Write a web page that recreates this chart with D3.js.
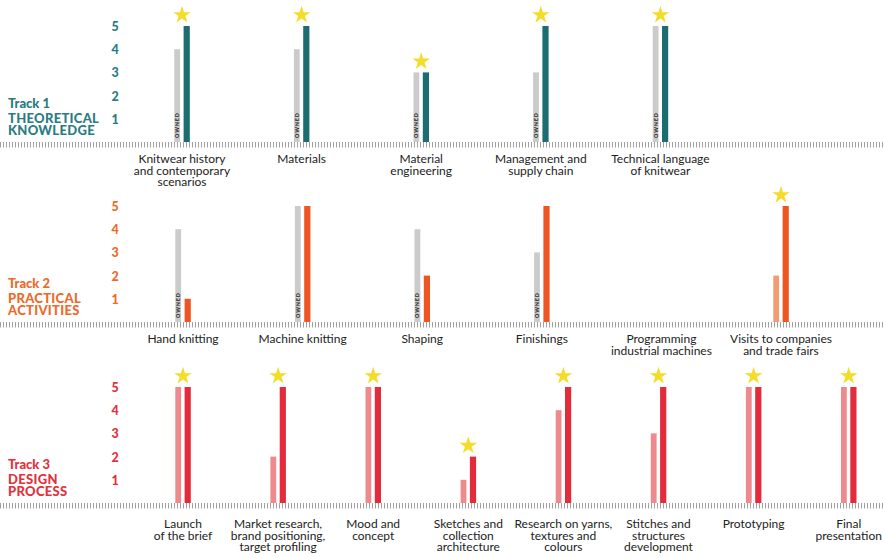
<!DOCTYPE html>
<html>
<head>
<meta charset="utf-8">
<script src="https://cdn.jsdelivr.net/npm/d3@7"></script>
<style>
  html, body { margin: 0; padding: 0; background: #ffffff; }
  svg { display: block; }
</style>
</head>
<body>
<div id="chart"></div>
<script>
// ---- Track 1: theoretical knowledge ----
const track1Categories = [
  ["Knitwear history", "and contemporary", "scenarios"],
  ["Materials"],
  ["Material", "engineering"],
  ["Management and", "supply chain"],
  ["Technical language", "of knitwear"]
];
const track1Owned  = [4, 4, 3, 3, 5];
const track1Prior  = [null, null, null, null, null];
const track1Target = [5, 5, 3, 5, 5];
const track1Star   = [true, true, true, true, true];

// ---- Track 2: practical activities ----
const track2Categories = [
  ["Hand knitting"],
  ["Machine knitting"],
  ["Shaping"],
  ["Finishings"],
  ["Programming", "industrial machines"],
  ["Visits to companies", "and trade fairs"]
];
const track2Owned  = [4, 5, 4, 3, null, null];
const track2Prior  = [null, null, null, null, null, 2];
const track2Target = [1, 5, 2, 5, null, 5];
const track2Star   = [false, false, false, false, false, true];

// ---- Track 3: design process ----
const track3Categories = [
  ["Launch", "of the brief"],
  ["Market research,", "brand positioning,", "target profiling"],
  ["Mood and", "concept"],
  ["Sketches and", "collection", "architecture"],
  ["Research on yarns,", "textures and", "colours"],
  ["Stitches and", "structures", "development"],
  ["Prototyping"],
  ["Final", "presentation"]
];
const track3Owned  = [null, null, null, null, null, null, null, null];
const track3Prior  = [5, 2, 5, 1, 4, 3, 5, 5];
const track3Target = [5, 5, 5, 2, 5, 5, 5, 5];
const track3Star   = [true, true, true, true, true, true, true, true];

const levelTicks = [1, 2, 3, 4, 5];
const trackTitles = [
  ["Track 1", "THEORETICAL", "KNOWLEDGE"],
  ["Track 2", "PRACTICAL", "ACTIVITIES"],
  ["Track 3", "DESIGN", "PROCESS"]
];

const W = 885, H = 558;
const svg = d3.select("#chart").append("svg")
  .attr("width", W).attr("height", H)
  .style("font-family", "Lato, 'Open Sans', sans-serif");

svg.append("rect").attr("width", W).attr("height", H).attr("fill", "#ffffff");

// soft edge used on the stars
const defs = svg.append("defs");
defs.append("filter").attr("id", "soft")
  .attr("x", "-30%").attr("y", "-30%").attr("width", "160%").attr("height", "160%")
  .append("feGaussianBlur").attr("stdDeviation", 0.5);

const tracks = [
  {
    title: trackTitles[0], cats: track1Categories, owned: track1Owned, prior: track1Prior,
    target: track1Target, star: track1Star,
    base: 142, xFirst: 182, xStep: 119.6, labelGap: 21,
    text: "#2a7c82", bar: "#1c6d72", light: "#cfcfcf"
  },
  {
    title: trackTitles[1], cats: track2Categories, owned: track2Owned, prior: track2Prior,
    target: track2Target, star: track2Star,
    base: 322, xFirst: 183, xStep: 119.6, labelGap: 21,
    text: "#ec6a2a", bar: "#ee5522", light: "#f39c74"
  },
  {
    title: trackTitles[2], cats: track3Categories, owned: track3Owned, prior: track3Prior,
    target: track3Target, star: track3Star,
    base: 503, xFirst: 183, xStep: 95.1, labelGap: 25,
    text: "#e3303d", bar: "#e32b3b", light: "#ee8a8e"
  }
];

const ownedColor = "#cbcbcb";
const starColor = "#f4dc2c";
const unitHeight = 116 / 5;

tracks.forEach(t => {
  const g = svg.append("g");
  const n = t.cats.length;
  const keys = d3.range(n);

  const x = d3.scalePoint()
    .domain(keys)
    .range([t.xFirst, t.xFirst + (n - 1) * t.xStep]);

  const y = d3.scaleLinear()
    .domain([0, 5])
    .range([t.base, t.base - 5 * unitHeight]);

  // level numbers sit in the middle of each unit band
  const yLevel = d3.scaleLinear()
    .domain([0.5, 5.5])
    .range([t.base - 0.5 * unitHeight, t.base - 5.5 * unitHeight]);

  const axis = g.append("g")
    .attr("transform", "translate(115,0)")
    .call(d3.axisLeft(yLevel).tickValues(levelTicks).tickSize(0).tickPadding(0).tickFormat(d3.format("d")));
  axis.select(".domain").remove();
  axis.selectAll("text")
    .attr("x", 0)
    .attr("text-anchor", "middle")
    .attr("dy", "0.36em")
    .attr("fill", t.text)
    .style("font-family", "Lato, sans-serif")
    .style("font-weight", "900")
    .style("font-size", "12.5px");

  // ruler baseline
  g.append("line")
    .attr("x1", 0).attr("x2", W)
    .attr("y1", t.base + 2.8).attr("y2", t.base + 2.8)
    .attr("stroke", "#a0a0a0")
    .attr("stroke-width", 5.5)
    .attr("stroke-dasharray", "1 2");

  // track title
  const title = g.append("text")
    .attr("fill", t.text)
    .style("font-weight", "900")
    .style("font-size", "13px");
  title.append("tspan").attr("x", 8).attr("y", t.base - 34).text(t.title[0]);
  title.append("tspan").attr("x", 8).attr("y", t.base - 19.5).style("letter-spacing", "0.3px").text(t.title[1]);
  title.append("tspan").attr("x", 8).attr("y", t.base - 7.5).style("letter-spacing", "0.3px").text(t.title[2]);

  // left bar: what is owned (grey) or already covered (light tint)
  const leftData = keys.map(i => {
    if (t.owned[i] != null) return { i, v: t.owned[i], color: ownedColor, owned: true };
    if (t.prior[i] != null) return { i, v: t.prior[i], color: t.light, owned: false };
    return null;
  }).filter(d => d);

  g.selectAll(".left").data(leftData).join("rect")
    .attr("class", "left")
    .attr("x", d => x(d.i) - 7.7)
    .attr("width", 5.8)
    .attr("y", d => y(d.v))
    .attr("height", d => y(0) - y(d.v))
    .attr("fill", d => d.color);

  g.selectAll(".owned-label").data(leftData.filter(d => d.owned)).join("text")
    .attr("class", "owned-label")
    .attr("transform", d => `translate(${x(d.i) - 2.9},${t.base - 4}) rotate(-90)`)
    .attr("fill", "#2a2a2a")
    .style("font-family", "Lato, sans-serif")
    .style("font-weight", "900")
    .style("font-size", "5.4px")
    .style("letter-spacing", "0.9px")
    .text("OWNED");

  // right bar: target level
  const rightData = keys.filter(i => t.target[i] != null).map(i => ({ i, v: t.target[i] }));
  g.selectAll(".target").data(rightData).join("rect")
    .attr("class", "target")
    .attr("x", d => x(d.i) + 1.6)
    .attr("width", 6.2)
    .attr("y", d => y(d.v))
    .attr("height", d => y(0) - y(d.v))
    .attr("fill", t.bar);

  // stars over the goals
  const star = d3.symbol().type(d3.symbolStar).size(96);
  g.selectAll(".star").data(rightData.filter(d => t.star[d.i])).join("path")
    .attr("class", "star")
    .attr("d", star)
    .attr("transform", d => `translate(${x(d.i)},${y(d.v) - 11})`)
    .attr("fill", starColor)
    .attr("filter", "url(#soft)");

  // category labels
  const labels = g.selectAll(".cat").data(keys).join("text")
    .attr("class", "cat")
    .attr("text-anchor", "middle")
    .attr("fill", "#222222")
    .style("font-size", "12px");
  labels.each(function (i) {
    const el = d3.select(this);
    t.cats[i].forEach((line, k) => {
      el.append("tspan")
        .attr("x", x(i))
        .attr("y", t.base + t.labelGap + k * 11.5)
        .text(line);
    });
  });
});
</script>
</body>
</html>
